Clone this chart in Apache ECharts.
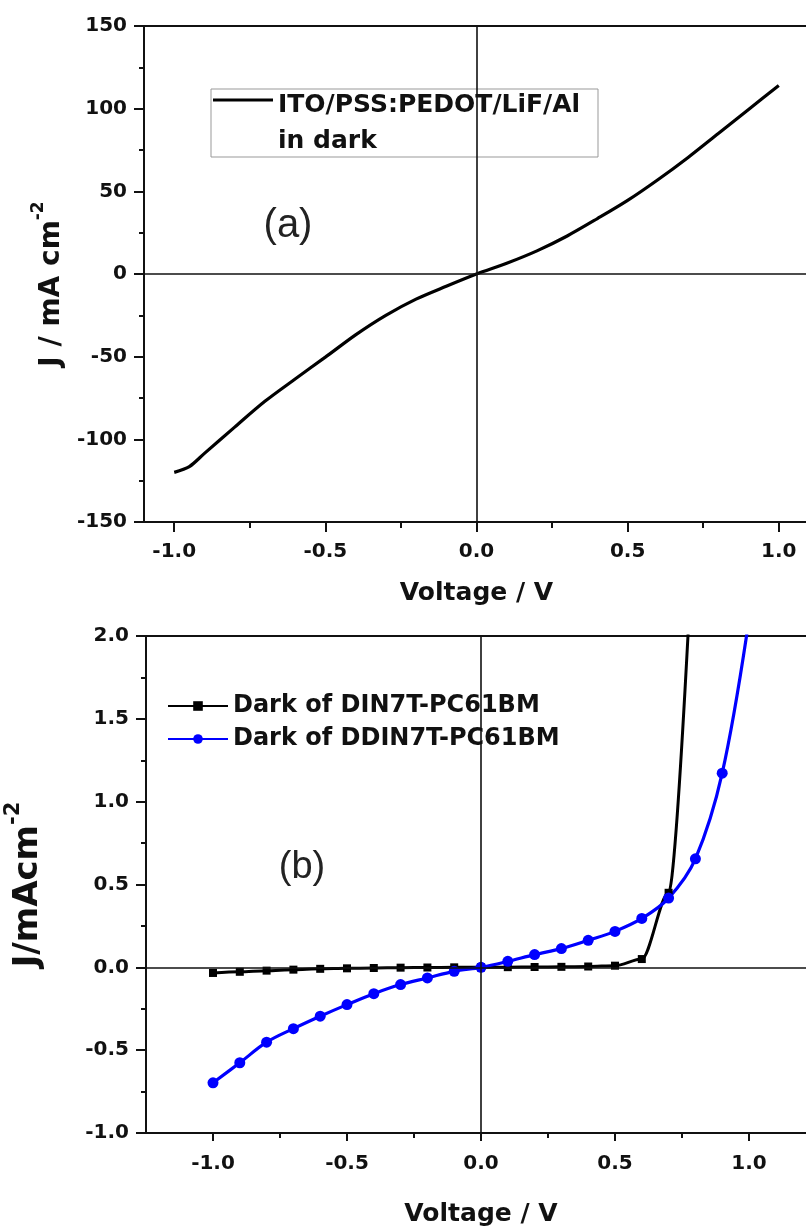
<!DOCTYPE html>
<html>
<head>
<meta charset="utf-8">
<script src="https://cdn.jsdelivr.net/npm/echarts@6/dist/echarts.min.js"></script>
<style>
html,body{margin:0;padding:0;background:#fff;}
#c{width:806px;height:1227px;}
</style>
</head>
<body>
<div id="c"></div>
<script>
// ---------- data ----------
// (a) ITO/PSS:PEDOT/LiF/Al in dark
const vTop = [-1.0, -0.95, -0.9, -0.8, -0.7, -0.6, -0.5, -0.4, -0.3, -0.2, -0.1, 0.0, 0.1, 0.2, 0.3, 0.4, 0.5, 0.6, 0.7, 0.8, 0.9, 1.0];
const jTop = [-120, -116.5, -108.5, -92.6, -77, -63.5, -50.3, -36.8, -25.0, -15.2, -7.4, 0, 6.5, 14, 23, 33.5, 44.5, 57, 70.5, 85, 99.5, 114];

// (b) dark J-V curves
const vDIN = [-1.0, -0.9, -0.8, -0.7, -0.6, -0.5, -0.4, -0.3, -0.2, -0.1, 0.0, 0.1, 0.2, 0.3, 0.4, 0.5, 0.6, 0.7, 0.8];
const jDIN = [-0.034, -0.027, -0.02, -0.014, -0.009, -0.006, -0.004, -0.002, -0.001, 0, 0, 0.001, 0.002, 0.003, 0.005, 0.01, 0.05, 0.45, 2.9];
const vDDIN = [-1.0, -0.9, -0.8, -0.7, -0.6, -0.5, -0.4, -0.3, -0.2, -0.1, 0.0, 0.1, 0.2, 0.3, 0.4, 0.5, 0.6, 0.7, 0.8, 0.9, 1.0];
const jDDIN = [-0.697, -0.576, -0.452, -0.370, -0.295, -0.225, -0.159, -0.104, -0.064, -0.024, 0, 0.036, 0.077, 0.113, 0.163, 0.217, 0.295, 0.418, 0.655, 1.172, 2.1];

const nameTop = 'ITO/PSS:PEDOT/LiF/Al\nin dark';
const nameDIN = 'Dark of DIN7T-PC61BM';
const nameDDIN = 'Dark of DDIN7T-PC61BM';

const xMajor = [-1.0, -0.5, 0.0, 0.5, 1.0];
const xMinor = [-1.25, -0.75, -0.25, 0.25, 0.75, 1.25];
const xTitle = 'Voltage / V';

// ---------- helpers ----------
const FONT = 'DejaVu Sans';
const INK = '#111';
function zip(a, b) { return a.map((v, i) => [v, b[i]]); }

function mainX(grid, min, max, tickLen, labelMargin, nameGap) {
  return {
    type: 'value', gridIndex: grid, position: 'bottom', min: min, max: max,
    axisLine: { show: true, onZero: false, lineStyle: { color: INK, width: 2 } },
    axisTick: { show: true, customValues: xMajor, length: tickLen, lineStyle: { color: INK, width: 2 } },
    axisLabel: { customValues: xMajor, formatter: v => v.toFixed(1), margin: labelMargin,
      color: INK, fontFamily: FONT, fontWeight: 'bold', fontSize: 20 },
    splitLine: { show: false },
    name: xTitle, nameLocation: 'middle', nameGap: nameGap,
    nameTextStyle: { color: INK, fontFamily: FONT, fontWeight: 'bold', fontSize: 25 }
  };
}
function minorX(grid, min, max, tickLen) {
  return {
    type: 'value', gridIndex: grid, position: 'bottom', min: min, max: max,
    axisLine: { show: false, onZero: false },
    axisTick: { show: true, customValues: xMinor.filter(v => v > min && v < max), length: tickLen, lineStyle: { color: INK, width: 2 } },
    axisLabel: { show: false },
    splitLine: { show: false }
  };
}
function yAx(grid, min, max, interval, fmt, name, nameGap, namePad, nameSize) {
  return {
    type: 'value', gridIndex: grid, min: min, max: max, interval: interval,
    axisLine: { show: true, onZero: false, lineStyle: { color: INK, width: 2 } },
    axisTick: { show: true, length: 10, lineStyle: { color: INK, width: 2 } },
    minorTick: { show: true, splitNumber: 2, length: 5, lineStyle: { color: INK, width: 2 } },
    axisLabel: { formatter: fmt, margin: 17, color: INK, fontFamily: FONT, fontWeight: 'bold', fontSize: 20 },
    splitLine: { show: false },
    name: name, nameLocation: 'middle', nameGap: nameGap,
    nameTextStyle: {
      padding: namePad,
      rich: {
        n: { fontFamily: FONT, fontWeight: 'bold', fontSize: nameSize, color: INK, padding: [8, 0, 0, 0], verticalAlign: 'bottom' },
        s: { fontFamily: FONT, fontWeight: 'bold', fontSize: Math.round(nameSize * 0.62), color: INK, verticalAlign: 'top' }
      }
    }
  };
}
const crossLine = {
  silent: true, symbol: 'none', label: { show: false },
  lineStyle: { color: INK, width: 1.6, type: 'solid' },
  emphasis: { disabled: true },
  data: [{ xAxis: 0 }, { yAxis: 0 }]
};
const legendText = { color: INK, fontFamily: FONT, fontWeight: 'bold' };

const chart = echarts.init(document.getElementById('c'), null, { renderer: 'canvas' });
chart.setOption({
  animation: false,
  backgroundColor: '#fff',
  grid: [
    { left: 144, top: 26, width: 665, height: 496, show: true, borderColor: INK, borderWidth: 2,
      containLabel: false, outerBoundsMode: 'none' },
    { left: 146, top: 636, width: 670, height: 497, show: true, borderColor: INK, borderWidth: 2,
      containLabel: false, outerBoundsMode: 'none' }
  ],
  xAxis: [
    mainX(0, -1.1, 1.1, 10, 20, 59),
    minorX(0, -1.1, 1.1, 6),
    mainX(1, -1.25, 1.25, 8, 21, 69),
    minorX(1, -1.25, 1.25, 5)
  ],
  yAxis: [
    yAx(0, -150, 150, 50, v => String(v), '{n|J / mA cm}{s|-2}', 78, [0, 20, 0, 0], 28),
    yAx(1, -1, 2, 0.5, v => v.toFixed(1), '{n|J/mAcm}{s|-2}', 101, [0, 0, 0, 0], 34)
  ],
  legend: [
    {
      data: [{ name: nameTop, icon: 'rect' }], left: 208, top: 54, orient: 'vertical',
      itemWidth: 60, itemHeight: 3, selectedMode: false,
      formatter: function (n) {
        const parts = n.split('\n');
        return '{pad|}\n{t|' + parts[0] + '}\n{t|' + parts[1] + '}';
      },
      textStyle: Object.assign({ fontSize: 25, rich: {
        pad: { lineHeight: 46, fontSize: 10 },
        t: Object.assign({ fontSize: 25, lineHeight: 36 }, legendText)
      } }, legendText)
    },
    {
      data: [nameDIN, nameDDIN], left: 162, top: 689, orient: 'vertical',
      itemWidth: 60, itemHeight: 12, itemGap: 9, selectedMode: false,
      textStyle: Object.assign({ fontSize: 24 }, legendText)
    }
  ],
  graphic: [
    { type: 'rect', z: 3, shape: { x: 211, y: 89, width: 387, height: 68 },
      style: { fill: '#fff', stroke: '#999', lineWidth: 1 } },
    { type: 'text', z: 5, style: { text: '(a)', x: 288, y: 226, align: 'center', verticalAlign: 'middle',
      fontFamily: 'Liberation Sans', fontSize: 40, fill: '#222' } },
    { type: 'text', z: 5, style: { text: '(b)', x: 302, y: 868, align: 'center', verticalAlign: 'middle',
      fontFamily: 'Liberation Sans', fontSize: 38, fill: '#222' } }
  ],
  series: [
    {
      name: nameTop, type: 'line', xAxisIndex: 0, yAxisIndex: 0,
      data: zip(vTop, jTop), smooth: 0.3, symbol: 'none',
      lineStyle: { color: '#000', width: 3.2 }, itemStyle: { color: '#000' },
      markLine: crossLine
    },
    {
      name: nameDIN, type: 'line', xAxisIndex: 2, yAxisIndex: 1,
      data: zip(vDIN, jDIN), smooth: 0.3, smoothMonotone: 'x',
      symbol: 'rect', symbolSize: 8,
      lineStyle: { color: '#000', width: 3 }, itemStyle: { color: '#000' },
      markLine: crossLine
    },
    {
      name: nameDDIN, type: 'line', xAxisIndex: 2, yAxisIndex: 1,
      data: zip(vDDIN, jDDIN), smooth: 0.35,
      symbol: 'circle', symbolSize: 11,
      lineStyle: { color: '#0000ff', width: 3.2 }, itemStyle: { color: '#0000ff' }
    }
  ]
});
</script>
</body>
</html>
